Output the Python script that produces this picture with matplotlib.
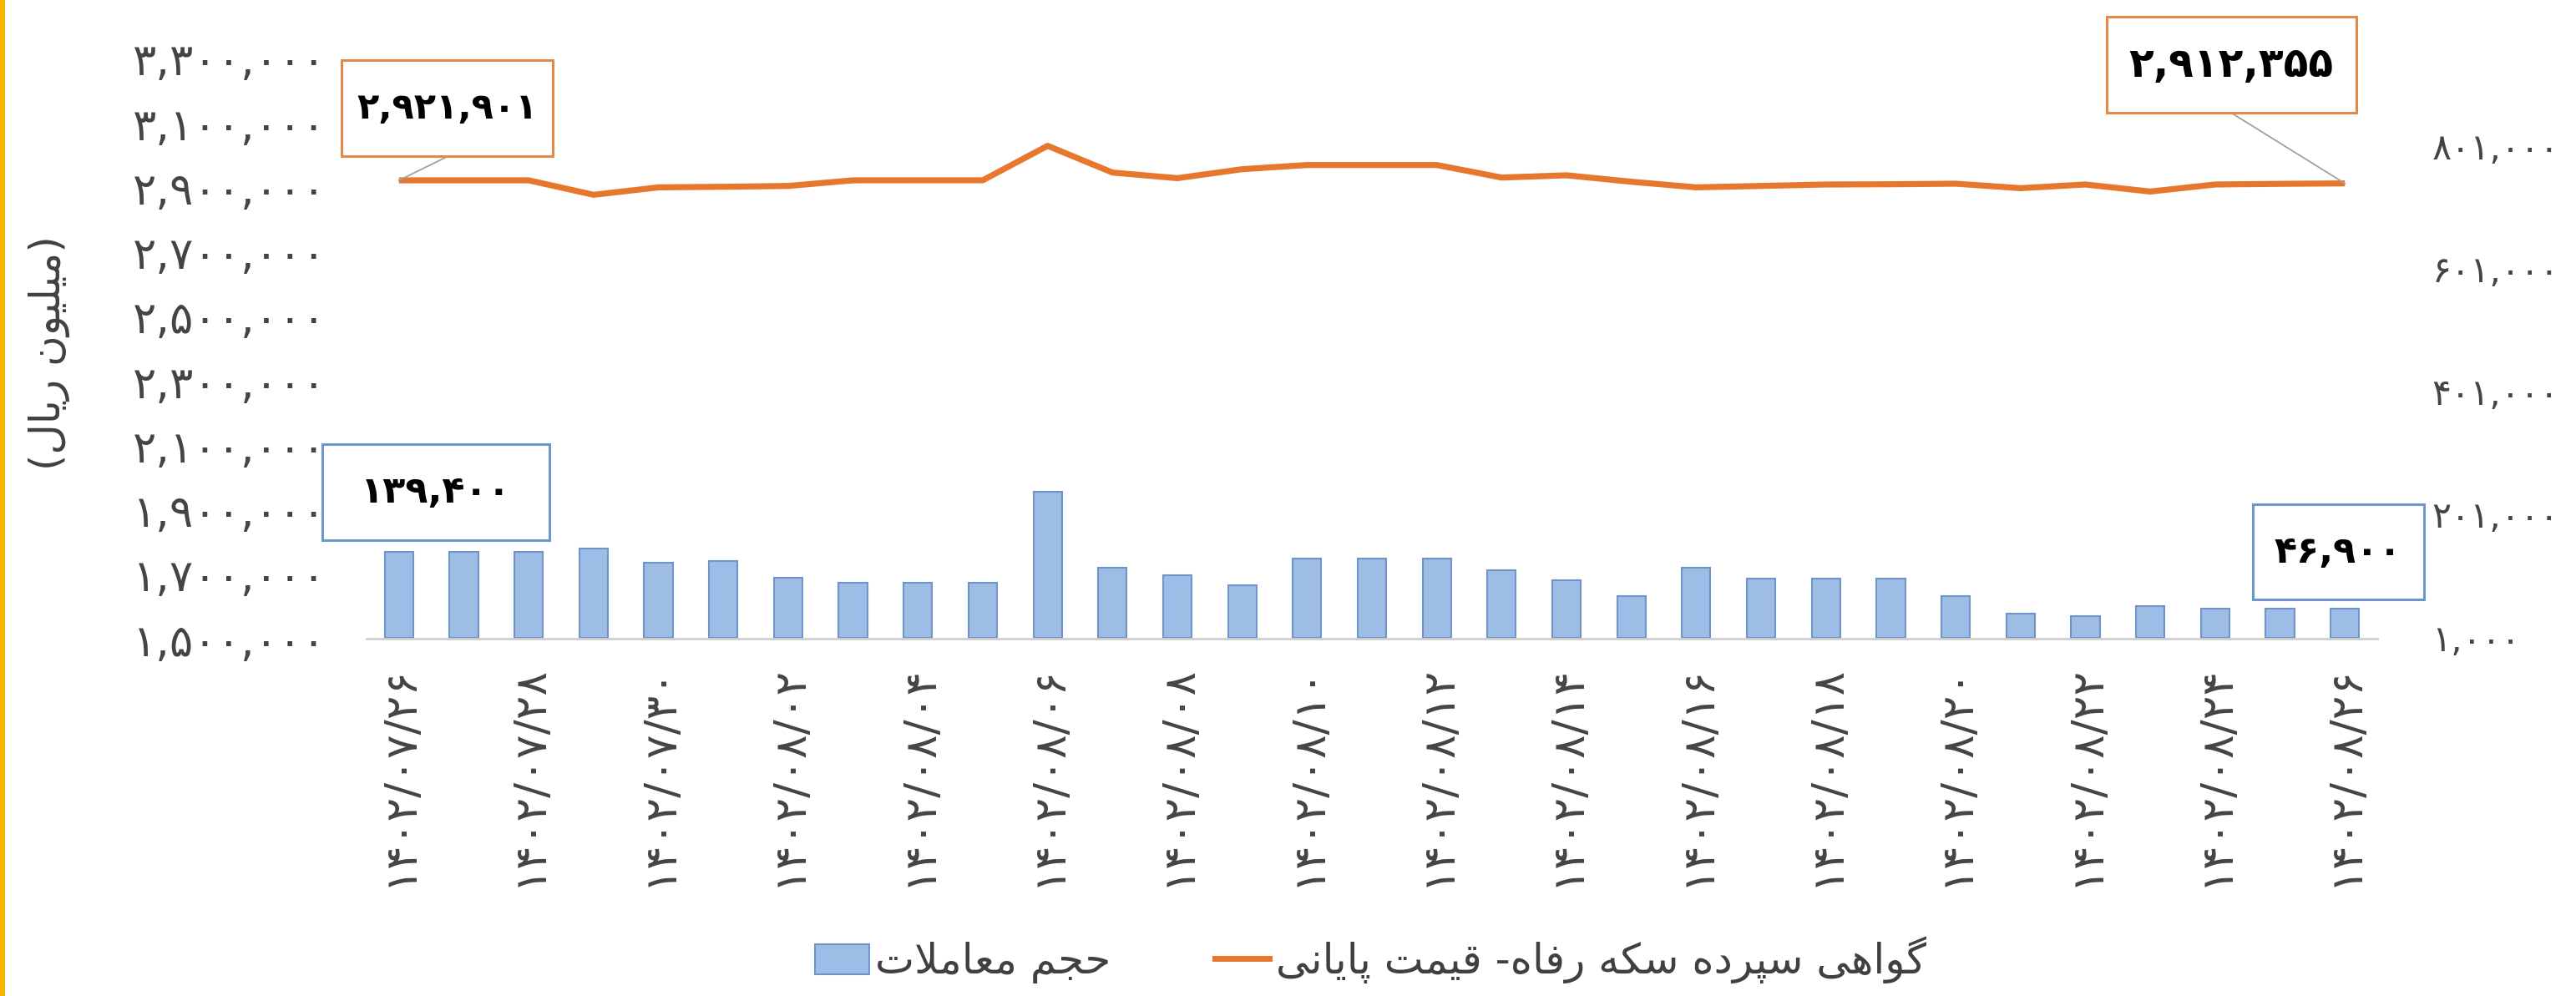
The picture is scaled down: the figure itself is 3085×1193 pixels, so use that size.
import matplotlib
matplotlib.use('Agg')
import numpy as np
import matplotlib.pyplot as plt
from matplotlib.patches import Rectangle, Patch
from matplotlib.lines import Line2D
from matplotlib.transforms import ScaledTranslation

plt.rcParams['font.family'] = ['DejaVu Sans']

# ---------------- data ----------------
dates = ['1402/07/26', '1402/07/27', '1402/07/28', '1402/07/29', '1402/07/30',
         '1402/08/01', '1402/08/02', '1402/08/03', '1402/08/04', '1402/08/05',
         '1402/08/06', '1402/08/07', '1402/08/08', '1402/08/09', '1402/08/10',
         '1402/08/11', '1402/08/12', '1402/08/13', '1402/08/14', '1402/08/15',
         '1402/08/16', '1402/08/17', '1402/08/18', '1402/08/19', '1402/08/20',
         '1402/08/21', '1402/08/22', '1402/08/23', '1402/08/24', '1402/08/25',
         '1402/08/26']

price = [2921901, 2921901, 2921901, 2877000, 2900100, 2901900, 2904500, 2921900,
         2922000, 2922000, 3029000, 2946000, 2928600, 2956400, 2969400, 2969400,
         2969400, 2930500, 2937500, 2917500, 2900100, 2904500, 2909000, 2909700,
         2911500, 2897500, 2909000, 2887100, 2909000, 2911000, 2912355]

volume = [139400, 139400, 139400, 144800, 121600, 125100, 97800, 90200,
          90200, 90200, 237700, 113500, 101500, 85800, 128300, 128300,
          128300, 110300, 93400, 68000, 113500, 96900, 96900, 96900,
          68000, 39800, 35800, 50900, 46900, 46900, 46900]

left_ticks = [1500000, 1700000, 1900000, 2100000, 2300000,
              2500000, 2700000, 2900000, 3100000, 3300000]
right_ticks = [1000, 201000, 401000, 601000, 801000]

legend_labels = ['حجم معاملات', 'گواهی سپرده سکه رفاه- قیمت پایانی']
y_label = '(میلیون ریال)'

# ---------------- helpers ----------------
FA_DIGITS = str.maketrans('0123456789', '۰۱۲۳۴۵۶۷۸۹')


def fa(v):
    if isinstance(v, str):
        return v.translate(FA_DIGITS)
    return f'{v:,}'.translate(FA_DIGITS)


FORMS = {
    'ا': ('\uFE8D', '\uFE8E', None, None),
    'ب': ('\uFE8F', '\uFE90', '\uFE91', '\uFE92'),
    'پ': ('\uFB56', '\uFB57', '\uFB58', '\uFB59'),
    'ت': ('\uFE95', '\uFE96', '\uFE97', '\uFE98'),
    'ج': ('\uFE9D', '\uFE9E', '\uFE9F', '\uFEA0'),
    'ح': ('\uFEA1', '\uFEA2', '\uFEA3', '\uFEA4'),
    'د': ('\uFEA9', '\uFEAA', None, None),
    'ر': ('\uFEAD', '\uFEAE', None, None),
    'س': ('\uFEB1', '\uFEB2', '\uFEB3', '\uFEB4'),
    'ع': ('\uFEC9', '\uFECA', '\uFECB', '\uFECC'),
    'ف': ('\uFED1', '\uFED2', '\uFED3', '\uFED4'),
    'ق': ('\uFED5', '\uFED6', '\uFED7', '\uFED8'),
    'ک': ('\uFB8E', '\uFB8F', '\uFB90', '\uFB91'),
    'گ': ('\uFB92', '\uFB93', '\uFB94', '\uFB95'),
    'ل': ('\uFEDD', '\uFEDE', '\uFEDF', '\uFEE0'),
    'م': ('\uFEE1', '\uFEE2', '\uFEE3', '\uFEE4'),
    'ن': ('\uFEE5', '\uFEE6', '\uFEE7', '\uFEE8'),
    'ه': ('\uFEE9', '\uFEEA', '\uFEEB', '\uFEEC'),
    'و': ('\uFEED', '\uFEEE', None, None),
    'ی': ('\uFBFC', '\uFBFD', '\uFBFE', '\uFBFF'),
}


def rtl(s):
    """Shape Persian letters into presentation forms and order them visually."""
    def dual(c):
        return c in FORMS and FORMS[c][2] is not None
    out = []
    i, n = 0, len(s)
    while i < n:
        c = s[i]
        if c not in FORMS:
            out.append(c)
            i += 1
            continue
        jp = i > 0 and dual(s[i - 1])
        if c == 'ل' and i + 1 < n and s[i + 1] == 'ا':
            out.append('\uFEFC' if jp else '\uFEFB')
            i += 2
            continue
        jn = dual(c) and i + 1 < n and s[i + 1] in FORMS
        iso, fin, ini, med = FORMS[c]
        if jp and jn:
            out.append(med)
        elif jp:
            out.append(fin)
        elif jn:
            out.append(ini)
        else:
            out.append(iso)
        i += 1
    vis = ''.join(reversed(out))
    return vis.translate(str.maketrans('()', ')('))


# ---------------- figure ----------------
W, H = 3085, 1193
fig = plt.figure(figsize=(W / 100, H / 100), dpi=100)
fig.patch.set_facecolor('white')

ax = fig.add_axes([439 / W, 1 - 765 / H, (2847 - 439) / W, (765 - 70) / H])
ax2 = ax.twinx()

x = np.arange(len(dates))
ax2.bar(x, volume, width=0.44, color='#9DBDE7', edgecolor='#6F95C8',
        linewidth=1.5, zorder=2)
ax.plot(x, price, color='#E8772E', lw=5.2, solid_joinstyle='round',
        solid_capstyle='butt', zorder=3)

ax.set_zorder(ax2.get_zorder() + 1)
ax.patch.set_visible(False)

ax.set_xlim(-0.5, len(dates) - 0.5)
ax.set_ylim(1500000, 3300000)
ax2.set_ylim(-1400, 942300)

tick_color = '#444444'
ax.set_yticks(left_ticks)
ax.set_yticklabels([fa(v) for v in left_ticks])
ax2.set_yticks(right_ticks)
ax2.set_yticklabels([fa(v) for v in right_ticks])
ax.tick_params(axis='y', length=0, pad=35, labelsize=38, labelcolor=tick_color)
ax2.tick_params(axis='y', length=0, pad=47, labelsize=31, labelcolor=tick_color)

ax.set_xticks(x[::2])
ax.set_xticklabels([fa(d) for d in dates[::2]], rotation=90, fontsize=38.5,
                   color=tick_color)
ax.tick_params(axis='x', length=0, pad=22)

for a in (ax, ax2):
    for s in a.spines.values():
        s.set_visible(False)
ax.spines['bottom'].set_visible(True)
ax.spines['bottom'].set_color('#D0D0D0')
ax.spines['bottom'].set_linewidth(2)
ax.grid(False)
ax2.grid(False)


# ---------------- data labels ----------------
def box_label(axis, xd, yd, text, dx, dy, w, h, ec, size, leader=False):
    """Boxed value label placed at a pixel offset from its data point."""
    tr = ScaledTranslation(xd, yd, axis.transData)
    axis.add_artist(Rectangle((dx - w / 2, dy - h / 2), w, h, transform=tr,
                              facecolor='white', edgecolor=ec, lw=2.2,
                              zorder=6, clip_on=False))
    axis.text(dx, dy, text, transform=tr, ha='center', va='center',
              fontsize=size, fontweight='bold', color='black', zorder=7,
              clip_on=False)
    if leader:
        axis.add_artist(Line2D([dx, 0], [dy - h / 2, 0], transform=tr,
                               color='#A0A0A0', lw=1.3, zorder=5,
                               clip_on=False))


box_label(ax, x[0], price[0], fa(price[0]), 58, 86, 253, 115,
          '#E3884A', 31, leader=True)
box_label(ax, x[-1], price[-1], fa(price[-1]), -136, 142, 299, 115,
          '#E3884A', 35, leader=True)
box_label(ax2, x[0], volume[0], fa(volume[0]), 44, 72, 272, 115,
          '#6C97CC', 32)
box_label(ax2, x[-1], volume[-1], fa(volume[-1]), -8, 68, 205, 114,
          '#6C97CC', 32)

# ---------------- legend & axis title ----------------
handles = [Patch(facecolor='#9DBDE7', edgecolor='#6F95C8', linewidth=1.5),
           Line2D([], [], color='#E8772E', lw=5)]
fig.legend(handles, [rtl(l) for l in legend_labels], loc='center',
           bbox_to_anchor=(0.532, 1 - 1150 / H), ncol=2, frameon=False,
           fontsize=36, handlelength=1.3, handleheight=0.75, handletextpad=0.15,
           columnspacing=2.5, labelcolor='#404040')

fig.text(59 / W, 1 - 423 / H, rtl(y_label), rotation=90, ha='center',
         va='center', fontsize=36, color='#404040')

# yellow page edge
fig.add_artist(Rectangle((0, 0), 6 / W, 1, transform=fig.transFigure,
                         color='#F5B400', lw=0))

fig.savefig('out.png', dpi=100, facecolor='white')
